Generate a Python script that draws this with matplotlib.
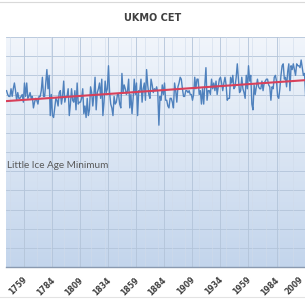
import numpy as np
import matplotlib
matplotlib.use("Agg")
import matplotlib.pyplot as plt
from matplotlib.lines import Line2D
from matplotlib.transforms import ScaledTranslation

# Central England Temperature, annual mean (degC), 1743-2012
year0 = 1743
cet = [
    9.2, 9.0, 8.9, 8.9, 9.3, 8.9, 9.3, 9.6, 9.2, 8.7,
    9.1, 8.8, 8.8, 8.9, 9.0, 8.6, 9.6, 8.9, 9.6, 8.8,
    8.9, 9.1, 8.8, 8.9, 8.3, 8.6, 8.8, 8.7, 8.5, 8.9,
    8.9, 9.2, 9.9, 8.9, 8.9, 9.6, 10.3, 9.3, 10.0, 7.9,
    9.0, 7.9, 7.8, 8.3, 8.8, 8.7, 8.4, 9.1, 9.2, 8.5,
    8.9, 9.7, 8.6, 8.9, 8.9, 9.3, 7.9, 8.5, 9.3, 8.7,
    8.6, 9.2, 8.2, 9.6, 8.5, 8.6, 8.6, 8.8, 9.3, 8.0,
    8.4, 7.8, 8.8, 7.9, 8.2, 9.4, 9.1, 8.4, 9.0, 9.9,
    8.2, 9.1, 9.3, 9.6, 8.8, 9.8, 7.9, 8.6, 9.7, 9.1,
    9.3, 10.5, 9.1, 8.5, 8.3, 7.9, 8.9, 8.5, 8.6, 9.0,
    9.0, 8.5, 8.3, 10.1, 9.1, 9.5, 9.3, 9.0, 9.2, 9.8,
    8.3, 9.0, 8.0, 8.8, 9.8, 9.0, 9.6, 7.9, 9.2, 9.2,
    9.8, 8.6, 9.3, 9.6, 8.7, 10.3, 9.5, 9.0, 8.8, 9.8,
    9.5, 9.1, 9.3, 9.2, 9.4, 9.1, 7.4, 8.9, 8.7, 9.5,
    9.0, 9.6, 8.7, 8.7, 8.4, 8.3, 8.8, 8.8, 8.6, 8.3,
    9.6, 9.2, 8.6, 9.4, 9.6, 9.9, 9.8, 9.3, 8.9, 8.9,
    9.2, 9.2, 9.1, 9.2, 9.0, 9.0, 8.7, 9.0, 9.9, 9.3,
    9.8, 9.8, 9.0, 9.2, 8.5, 9.3, 8.5, 9.5, 10.4, 8.7,
    9.2, 9.2, 9.0, 9.8, 9.3, 9.6, 9.2, 9.7, 9.0, 9.4,
    9.8, 9.9, 9.6, 9.2, 9.6, 9.9, 9.5, 8.7, 8.8, 8.8,
    9.9, 9.6, 10.0, 9.3, 9.4, 9.9, 10.6, 9.8, 9.1, 9.2,
    9.9, 9.3, 9.1, 8.8, 10.0, 9.3, 10.5, 9.7, 10.0, 8.5,
    8.2, 9.5, 9.0, 9.4, 9.8, 9.4, 9.3, 9.3, 9.7, 9.2,
    9.6, 9.7, 9.8, 9.8, 9.5, 9.4, 8.7, 9.4, 9.3, 9.9,
    10.0, 9.7, 8.9, 8.8, 9.3, 10.0, 10.5, 10.6, 9.8, 9.9,
    9.4, 10.2, 10.6, 9.2, 10.5, 10.3, 10.6, 10.3, 10.0, 10.6,
    10.5, 10.5, 10.4, 10.8, 10.4, 10.0, 10.1, 8.9, 10.7, 9.7,
]
years = np.arange(year0, year0 + len(cet))
tick_years = [1759, 1784, 1809, 1834, 1859, 1884, 1909, 1934, 1959, 1984, 2009]
note = "Little Ice Age Minimum"

fig = plt.figure(figsize=(3.05, 3.04), dpi=100)
fig.patch.set_facecolor("white")
# axes runs a little past the right edge, like the cropped original
ax = fig.add_axes([6 / 305, 37 / 304, 1.0, 230 / 304])
ax.set_xlim(1742.5, 2014.8)
ax.set_ylim(0, 12)

# Excel-ish gradient fill of the plot area
grad = np.linspace(0, 1, 256).reshape(-1, 1)
cmap = matplotlib.colors.LinearSegmentedColormap.from_list("bg", ["#f1f5fb", "#c3d5ec"])
ax.imshow(grad, extent=[0, 1, 0, 1], transform=ax.transAxes, aspect="auto",
          cmap=cmap, zorder=0)

# grid
for t in range(0, 13):
    ax.axhline(t, color="#b3c4d9", lw=0.6, zorder=1)
for yr in range(1746, 2015, 12):
    ax.axvline(yr + 0.5, color="#d0dbea", lw=0.4, zorder=1)
for yr in tick_years:
    ax.axvline(yr, color="#b3c4d9", lw=0.6, zorder=1)

ax.plot(years, cet, color="#4f81bd", lw=1.0, zorder=3)
coef = np.polyfit(years, cet, 1)
ax.plot(years, np.polyval(coef, years), color="#d8405a", lw=1.5, zorder=4)

ax.text(1743.5, 5.3, note, fontsize=7.2, color="#595959", family="Lato",
        ha="left", va="center", zorder=5)

ax.set_yticks([])
ax.set_xticks(tick_years)
ax.set_xticklabels([str(y) for y in tick_years], rotation=45, ha="right", va="top",
                   fontsize=5.6, color="#404040", family="DejaVu Sans", fontweight="bold")
ax.tick_params(axis="x", length=0, pad=6)
labels = ax.get_xticklabels()
for i, lab in enumerate(labels):
    dx = 4 if i < len(labels) - 1 else 0   # keep the last one inside the picture
    lab.set_transform(lab.get_transform() + ScaledTranslation(dx / 100, 0, fig.dpi_scale_trans))
for s in ["top", "left", "right"]:
    ax.spines[s].set_visible(False)
ax.spines["bottom"].set_color("#8a9ab0")
ax.spines["bottom"].set_linewidth(1.0)

fig.text(0.5, 1 - 18 / 304, "UKMO CET", ha="center", va="center", fontsize=7,
         fontweight="bold", color="#404040", family="DejaVu Sans")
fig.add_artist(Line2D([0, 1], [1 - 2 / 304, 1 - 2 / 304], color="#d9d9d9", lw=0.8))
fig.add_artist(Line2D([0, 1], [7 / 304, 7 / 304], color="#e3e3e3", lw=0.8))

fig.savefig("out.png", dpi=100)
